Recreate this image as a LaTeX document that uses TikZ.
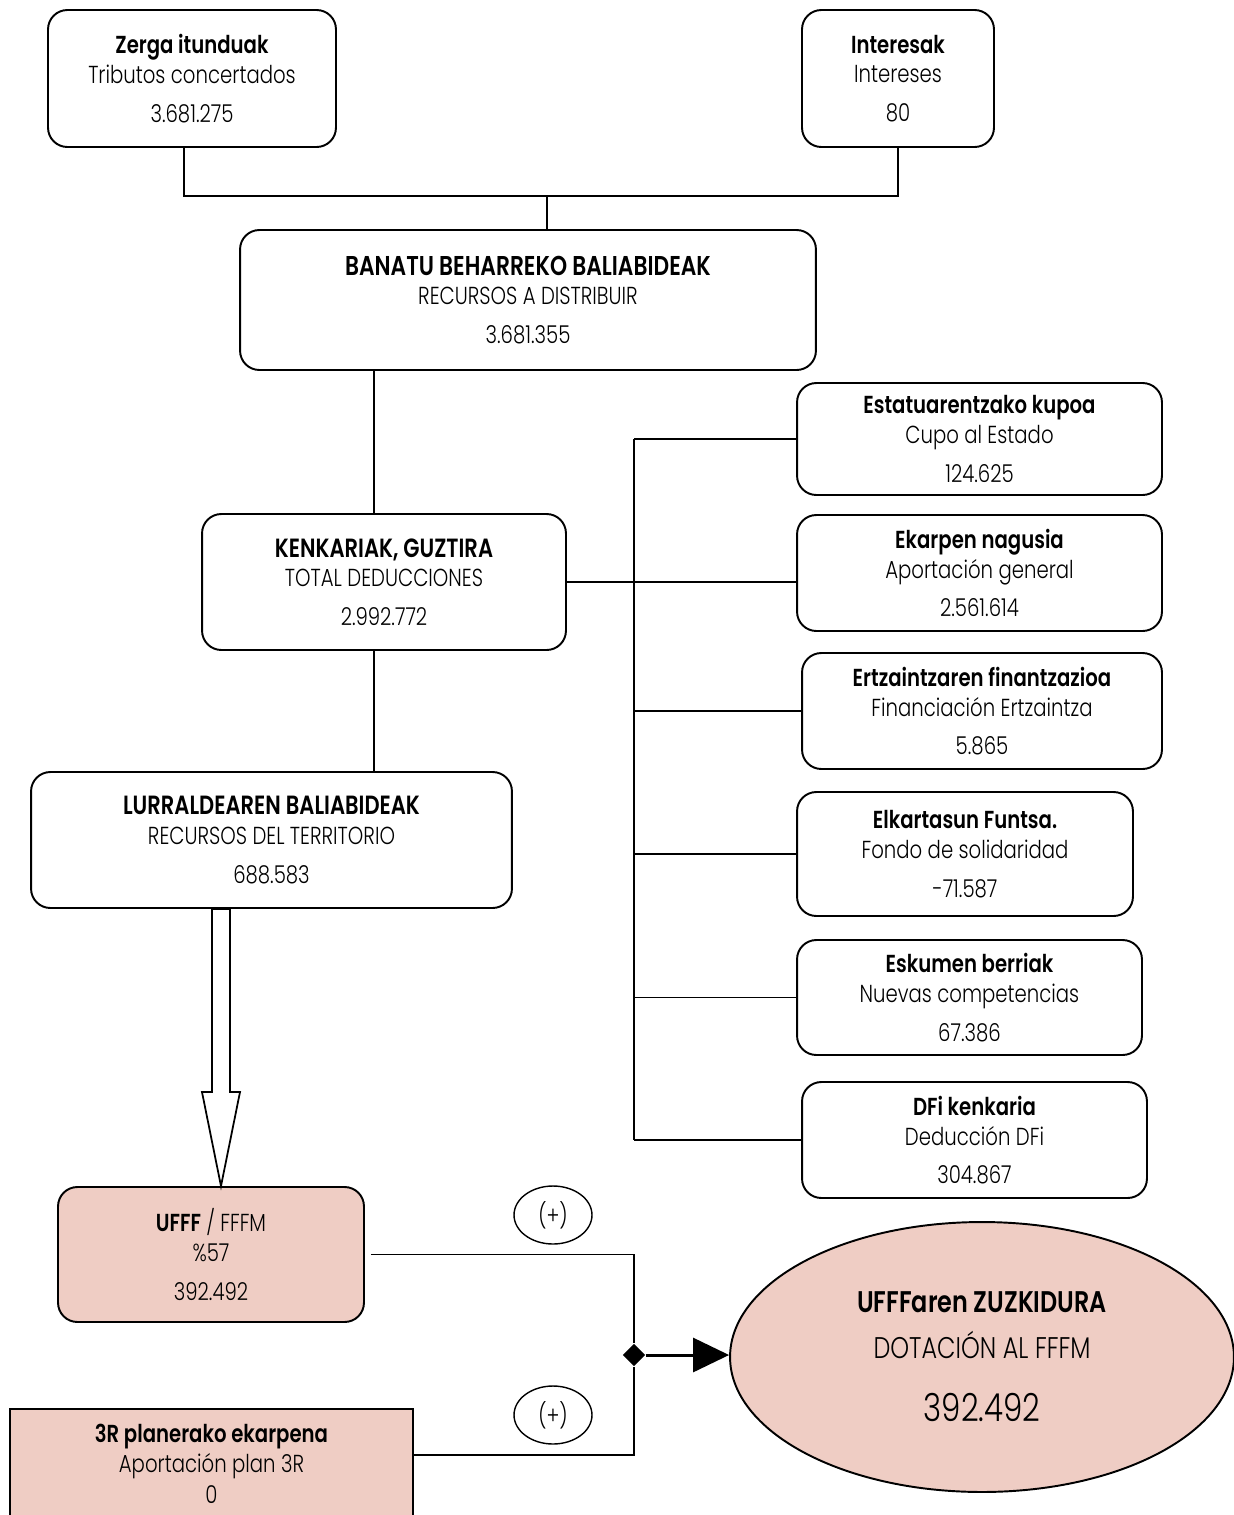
\documentclass[tikz,border=0pt]{standalone}
\usepackage{fontspec}
\setmainfont{Poppins}[UprightFont=* Light, BoldFont=* SemiBold, FakeStretch=0.8]
\usetikzlibrary{positioning,arrows.meta,calc,shapes.geometric}
\definecolor{salmon}{HTML}{EFCDC4}

\newcommand{\boxtxt}[3]{\textbf{#1}\\#2\\[5pt]#3}

\begin{document}
\begin{tikzpicture}[
    x=0.02cm, y=-0.02cm,
    >=Stealth,
    every node/.style={font=\fontsize{14}{17}\selectfont},
    box/.style={
      rectangle, rounded corners=11pt,
      draw, line width=1.1pt,
      align=center, inner sep=0pt
    },
    pinkbox/.style={box, fill=salmon},
    plainbox/.style={
      rectangle, draw, line width=1.1pt,
      fill=salmon, align=center, inner sep=0pt
    },
    sign/.style={ellipse, draw, line width=0.8pt,
      minimum width=1.56cm, minimum height=1.16cm},
    link/.style={line width=0.9pt},
  ]
  \useasboundingbox (0,0) rectangle (1234,1515);

  % Nodes
  \node[box, minimum width=5.76cm, minimum height=2.74cm] (zerga) at (192,78.5)
    {\boxtxt{Zerga itunduak}{Tributos concertados}{3.681.275}};
  \node[box, minimum width=3.84cm, minimum height=2.74cm] (interes) at (898,78.5)
    {\boxtxt{Interesak}{Intereses}{80}};
  \node[box, minimum width=11.52cm, minimum height=2.8cm] (banatu) at (528,300)
    {\boxtxt{\fontsize{15.5}{17}\selectfont BANATU BEHARREKO BALIABIDEAK}{RECURSOS A DISTRIBUIR}{3.681.355}};
  \node[box, minimum width=7.28cm, minimum height=2.72cm] (kenk) at (384,582)
    {\boxtxt{\fontsize{15}{17}\selectfont KENKARIAK, GUZTIRA}{TOTAL DEDUCCIONES}{2.992.772}};
  \node[box, minimum width=9.62cm, minimum height=2.72cm] (lurr) at (271.5,840)
    {\boxtxt{\fontsize{15}{17}\selectfont LURRALDEAREN BALIABIDEAK}{RECURSOS DEL TERRITORIO}{688.583}};

  \node[box, minimum width=7.3cm, minimum height=2.24cm] (estatu) at (979.5,439)
    {\boxtxt{Estatuarentzako kupoa}{Cupo al Estado}{124.625}};
  \node[box, minimum width=7.3cm, minimum height=2.32cm] (ekarpen) at (979.5,573)
    {\boxtxt{Ekarpen nagusia}{Aportación general}{2.561.614}};
  \node[box, minimum width=7.2cm, minimum height=2.32cm] (ertz) at (982,711)
    {\boxtxt{Ertzaintzaren finantzazioa}{Financiación Ertzaintza}{5.865}};
  \node[box, minimum width=6.72cm, minimum height=2.48cm] (elkart) at (965,854)
    {\boxtxt{Elkartasun Funtsa.}{Fondo de solidaridad}{-71.587}};
  \node[box, minimum width=6.9cm, minimum height=2.3cm] (eskumen) at (969.5,997.5)
    {\boxtxt{Eskumen berriak}{Nuevas competencias}{67.386}};
  \node[box, minimum width=6.9cm, minimum height=2.32cm] (dfi) at (974.5,1140)
    {\boxtxt{DFi kenkaria}{Deducción DFi}{304.867}};

  \node[pinkbox, minimum width=6.12cm, minimum height=2.7cm] (ufff) at (211,1254.5)
    {\textbf{UFFF} / FFFM\\\%57\\[5pt]392.492};
  \node[plainbox, minimum width=8.06cm, minimum height=2.2cm] (plan) at (211.5,1464)
    {\textbf{3R planerako ekarpena}\\Aportación plan 3R\\[1pt]0};

  \node[sign] (plus1) at (553,1215) {(+)};
  \node[sign] (plus2) at (553,1415) {(+)};

  \node[ellipse, draw, line width=1.1pt, fill=salmon, align=center,
        minimum width=10.08cm, minimum height=5.4cm,
        font=\fontsize{17}{20}\selectfont] (total) at (982,1357)
    {\textbf{UFFFaren ZUZKIDURA}\\[6pt]DOTACIÓN AL FFFM\\[16pt]
     {\fontsize{22}{24}\selectfont 392.492}};

  \node[diamond, fill, inner sep=0pt, minimum size=0.45cm] (join) at (634,1355) {};
  \coordinate (top) at (547,196);
  \coordinate (bus) at (634,0);

  % Connectors
  \draw[link] ([xshift=-0.16cm]zerga.south) |- (top) -| (interes.south);
  \draw[link] (top) -- (top |- banatu.north);
  \draw[link] ([xshift=-0.2cm]kenk.north) -- ([xshift=-0.2cm]kenk.north |- banatu.south);
  \draw[link] ([xshift=-0.2cm]kenk.south) -- ([xshift=-0.2cm]kenk.south |- lurr.north);

  \draw[link] (kenk.east) -- (kenk.east -| ekarpen.west);
  \draw[link] (bus |- estatu.west) -- (bus |- dfi.west);
  \foreach \n in {estatu, ertz, elkart, eskumen, dfi}
    \draw[link] (bus |- \n.west) -- (\n.west);

  % Hollow arrow down to UFFF
  \coordinate (tip) at ([xshift=0.2cm]ufff.north);
  \draw[line width=1pt, fill=white] (tip) -- ++(-19,-94) -- ++(10,0)
    -- ($(tip |- lurr.south)+(-9,0)$) -- ($(tip |- lurr.south)+(9,0)$)
    -- ($(tip)+(9,-94)$) -- ($(tip)+(19,-94)$) -- cycle;

  % Sum
  \draw[link] ([xshift=0.12cm]ufff.east) -| (join.north);
  \draw[link] ([yshift=0.18cm]plan.east) -| (join.south);
  \draw[line width=1.7pt, -{Triangle[length=0.72cm, width=0.68cm]}]
    (join.east) -- (join -| total.west);

\end{tikzpicture}
\end{document}
